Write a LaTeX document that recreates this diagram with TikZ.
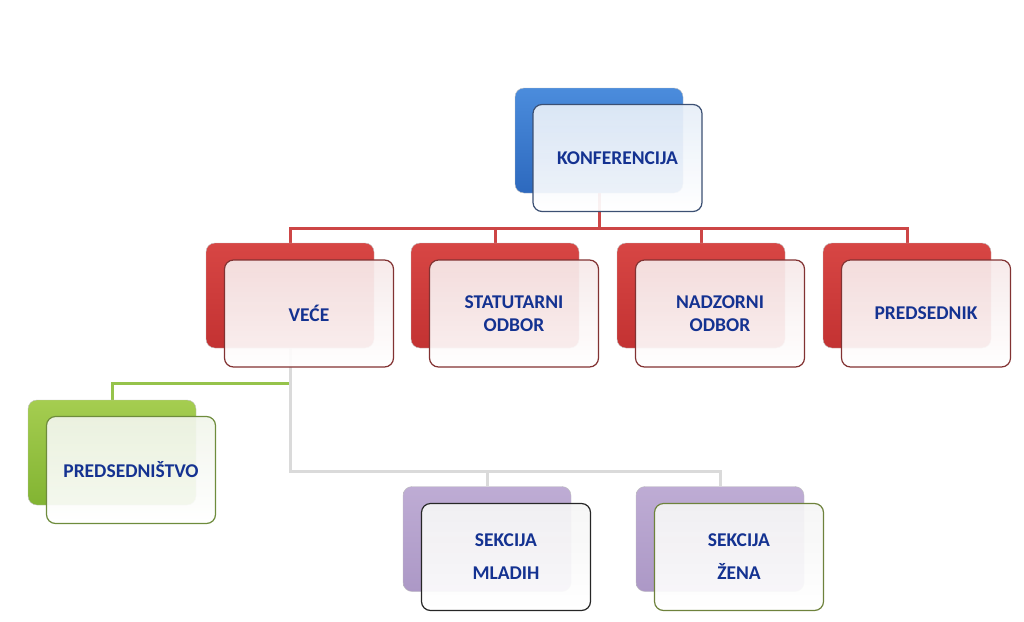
\documentclass[tikz,border=0pt]{standalone}
\usepackage{fontspec}
\setmainfont{Carlito}
\usetikzlibrary{backgrounds}
\definecolor{txtblue}{RGB}{20,50,145}
\definecolor{bluetop}{RGB}{75,140,220}
\definecolor{bluebot}{RGB}{45,105,190}
\definecolor{blueedge}{RGB}{60,80,115}
\definecolor{bluefront}{RGB}{230,238,248}
\definecolor{redtop}{RGB}{215,70,68}
\definecolor{redbot}{RGB}{195,50,50}
\definecolor{rededge}{RGB}{130,50,50}
\definecolor{redfront}{RGB}{246,233,233}
\definecolor{greentop}{RGB}{165,205,80}
\definecolor{greenbot}{RGB}{130,180,50}
\definecolor{greenedge}{RGB}{110,140,60}
\definecolor{greenfront}{RGB}{241,245,235}
\definecolor{purptop}{RGB}{190,172,212}
\definecolor{purpbot}{RGB}{172,152,198}
\definecolor{zenaedge}{RGB}{110,130,60}
\definecolor{redline}{RGB}{205,70,70}
\definecolor{greenline}{RGB}{150,195,75}
\definecolor{greyline}{RGB}{218,218,218}
\tikzset{
  backbox/.style={rounded corners=9pt, minimum width=168pt, minimum height=105pt, inner sep=0pt, draw=black!25, line width=0.4pt},
  frontbox/.style={rounded corners=9pt, minimum width=169pt, minimum height=107pt, inner sep=0pt, fill opacity=0.93, text opacity=1, line width=1.2pt, font=\fontsize{19.5}{23}\selectfont\bfseries, text=txtblue, align=center},
  blueback/.style={backbox, top color=bluetop, bottom color=bluebot},
  redback/.style={backbox, top color=redtop, bottom color=redbot},
  greenback/.style={backbox, top color=greentop, bottom color=greenbot},
  purpback/.style={backbox, top color=purptop, bottom color=purpbot},
  bluebox/.style={frontbox, draw=blueedge, top color=bluefront, bottom color=white},
  redbox/.style={frontbox, draw=rededge, top color=redfront, bottom color=white},
  greenbox/.style={frontbox, draw=greenedge, top color=greenfront, bottom color=white},
  purpbox/.style={frontbox, draw=#1, top color=white!96!black, bottom color=white},
  link/.style={line width=3pt, draw=#1}
}
\begin{document}
\begin{tikzpicture}[x=1pt, y=-1pt]
  \useasboundingbox (0,0) rectangle (1024,621);
  % back boxes
  \node[blueback] (konfB) at (599,140.5) {};
  \node[redback] (veceB) at (290,295.5) {};
  \node[redback] (statB) at (495,295.5) {};
  \node[redback] (nadzB) at (701,295.5) {};
  \node[redback] (predB) at (907,295.5) {};
  \node[greenback] (presB) at (112,452.5) {};
  \node[purpback] (mladB) at (487,539) {};
  \node[purpback] (zenaB) at (720,539) {};
  % front boxes
  \node[bluebox] (konf) at (617.5,158) {KONFERENCIJA};
  \node[redbox] (vece) at (309,313.5) {VEĆE};
  \node[redbox] (stat) at (514,313.5) {STATUTARNI\\ODBOR};
  \node[redbox] (nadz) at (720,313.5) {NADZORNI\\ODBOR};
  \node[redbox] (pred) at (926,313.5) {PREDSEDNIK};
  \node[greenbox] (pres) at (131,470) {PREDSEDNIŠTVO};
  \node[purpbox=black!85] (mlad) at (506,557) {SEKCIJA\\[10pt]MLADIH};
  \node[purpbox=zenaedge] (zena) at (739,557) {SEKCIJA\\[10pt]ŽENA};
  % connectors
  \begin{scope}[on background layer]
    \draw[link=redline] (konfB.south) -- ++(0,35) -| (veceB.north);
    \draw[link=redline] (konfB.south) -- ++(0,35) -| (statB.north);
    \draw[link=redline] (konfB.south) -- ++(0,35) -| (nadzB.north);
    \draw[link=redline] (konfB.south) -- ++(0,35) -| (predB.north);
    \draw[link=greenline] (veceB.south) -- ++(0,35) -| (presB.north);
    \draw[link=greyline] (veceB.south) -- ++(0,123) -| (mladB.north);
    \draw[link=greyline] (veceB.south) -- ++(0,123) -| (zenaB.north);
  \end{scope}
\end{tikzpicture}
\end{document}
